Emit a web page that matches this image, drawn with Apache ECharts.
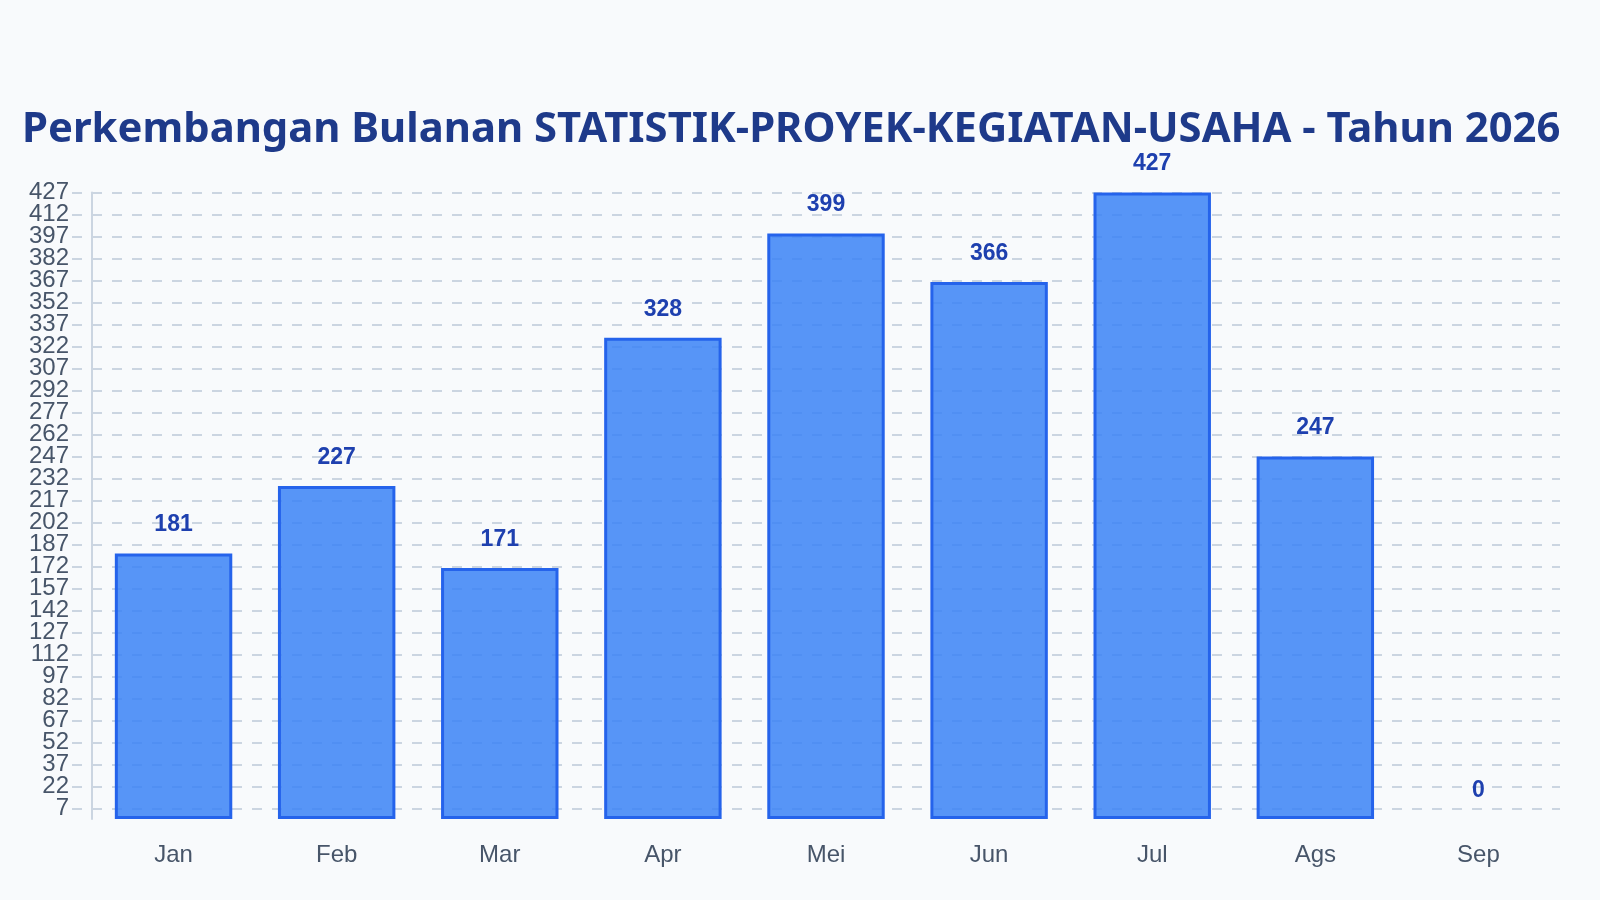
<!DOCTYPE html>
<html>
<head>
<meta charset="utf-8">
<script src="https://cdn.jsdelivr.net/npm/echarts@6/dist/echarts.min.js"></script>
<style>
html,body{margin:0;padding:0;background:#f8fafc;}
#chart{width:1600px;height:900px;}
</style>
</head>
<body>
<div id="chart"></div>
<script>
const titleText = 'Perkembangan Bulanan STATISTIK-PROYEK-KEGIATAN-USAHA - Tahun 2026';
const categories = ['Jan','Feb','Mar','Apr','Mei','Jun','Jul','Ags','Sep'];
const values = [181, 227, 171, 328, 399, 366, 427, 247, 0];
const yTicks = [7,22,37,52,67,82,97,112,127,142,157,172,187,202,217,232,247,262,277,292,307,322,337,352,367,382,397,412,427];

// Labels are ~24px tall with ticks ~21.6px apart; split them over two
// overlaid axes so ECharts does not drop overlapping neighbours.
const ticksA = yTicks.filter((v, i) => i % 2 === 0);
const ticksB = yTicks.filter((v, i) => i % 2 === 1);

function makeYAxis(ticks, showLine) {
  return {
    type: 'value',
    position: 'left',
    offset: 0,
    min: 0,
    max: 427,
    axisLine: { show: showLine, lineStyle: { color: '#cbd5e1', width: 2 } },
    axisTick: {
      show: true,
      customValues: ticks,
      length: 20,
      lineStyle: { color: '#cbd5e1', width: 2, type: [10, 10], dashOffset: 10 }
    },
    axisLabel: {
      customValues: ticks,
      showMinLabel: true,
      showMaxLabel: true,
      color: '#475569',
      fontFamily: 'Liberation Sans',
      fontSize: 24,
      margin: 23
    },
    splitLine: {
      show: true,
      lineStyle: { color: '#cbd5e1', width: 2, type: [10, 10] }
    }
  };
}

const chart = echarts.init(document.getElementById('chart'));
chart.setOption({
  backgroundColor: '#f8fafc',
  animation: false,
  title: {
    text: titleText,
    left: 17,
    top: 104,
    textStyle: {
      fontFamily: 'Noto Sans',
      fontWeight: 'bold',
      fontSize: 41.8,
      color: '#1e3a8a'
    }
  },
  grid: { left: 92, right: 40, top: 192.5, bottom: 81, containLabel: false },
  xAxis: {
    type: 'category',
    data: categories,
    axisLine: { show: false },
    axisTick: { show: false },
    axisLabel: {
      color: '#475569',
      fontFamily: 'Liberation Sans',
      fontSize: 24,
      margin: 24
    }
  },
  yAxis: [makeYAxis(ticksA, true), makeYAxis(ticksB, false)],
  series: [{
    type: 'bar',
    yAxisIndex: 0,
    barWidth: '72%',
    data: values.map(v => v === 0 ? { value: v, itemStyle: { borderWidth: 0 } } : v),
    itemStyle: {
      color: 'rgba(59,130,246,0.85)',
      borderColor: '#2563eb',
      borderWidth: 3
    },
    label: {
      show: true,
      position: 'top',
      distance: 17,
      color: '#1e40af',
      fontFamily: 'Liberation Sans',
      fontWeight: 'bold',
      fontSize: 23
    }
  }]
});
</script>
</body>
</html>
